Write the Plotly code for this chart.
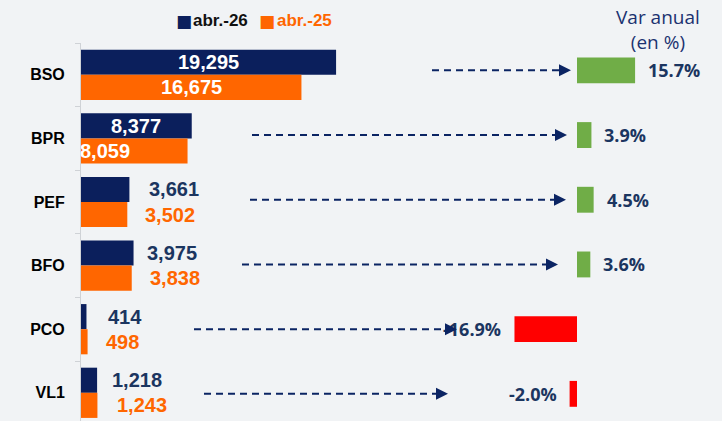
import plotly.graph_objects as go

# ---------------- data ----------------
categories = ["BSO", "BPR", "PEF", "BFO", "PCO", "VL1"]
abr26 = [19295, 8377, 3661, 3975, 414, 1218]
abr25 = [16675, 8059, 3502, 3838, 498, 1243]
var_anual = [15.7, 3.9, 4.5, 3.6, -16.9, -2.0]
series_names = ["abr.-26", "abr.-25"]
title_text = "Var anual<br>(en %)"

# ---------------- styles ----------------
W, H = 722, 421
NAVY = "#0b1f5c"
NAVY_TXT = "#1b3560"
ORANGE = "#ff6600"
GREEN = "#70ad47"
RED = "#ff0000"
BG = "#f1f3f5"
ARROW = "#0b2463"

# label placement per bar: ("in" centred white, "left" white at bar start, "out" coloured outside)
lab26_mode = ["in", "in", "out", "out", "out", "out"]
lab26_shift = [0, 0, 18, 11, 20, 13]
lab25_mode = ["in", "left", "out", "out", "out", "out"]
lab25_shift = [0, -3, 16, 16, 16, 18]

# arrow start / tip in pixels
arrow_start = [432, 252, 250, 242, 194, 204]
arrow_tip = [571, 567, 566, 558, 457, 448]

def px(x):
    return x / W

fig = go.Figure()
fig.add_trace(go.Bar(y=categories, x=abr26, orientation="h", name=series_names[0],
                     marker=dict(color=NAVY, line_width=0), xaxis="x", yaxis="y", hoverinfo="x+y"))
fig.add_trace(go.Bar(y=categories, x=abr25, orientation="h", name=series_names[1],
                     marker=dict(color=ORANGE, line_width=0), xaxis="x", yaxis="y", hoverinfo="x+y"))
fig.add_trace(go.Bar(y=categories, x=var_anual, orientation="h", name="Var anual",
                     marker=dict(color=[GREEN if v >= 0 else RED for v in var_anual], line_width=0),
                     width=0.4, xaxis="x2", yaxis="y2", hoverinfo="x+y"))

annotations = []
half = 0.79 / 4.0  # offset of each bar within its group
for i, c in enumerate(categories):
    for vals, modes, shifts, off, col in ((abr26, lab26_mode, lab26_shift, -half, NAVY_TXT),
                                          (abr25, lab25_mode, lab25_shift, half, ORANGE)):
        v = vals[i]
        m = modes[i]
        txt = f"{v:,}"
        if m == "in":
            a = dict(x=v / 2, xanchor="center", font=dict(color="white"))
        elif m == "left":
            a = dict(x=0, xanchor="left", xshift=shifts[i], font=dict(color="white"))
        else:
            a = dict(x=v, xanchor="left", xshift=shifts[i], font=dict(color=col))
        a["font"].update(size=20, family="Liberation Sans, Arial", weight="bold")
        a.update(text=f"<b>{txt}</b>", y=i + off, xref="x", yref="y", showarrow=False,
                 yanchor="middle")
        annotations.append(a)

    v = var_anual[i]
    annotations.append(dict(
        x=v, y=i, xref="x2", yref="y2", showarrow=False,
        text=f"<b>{v:.1f}%</b>",
        xanchor="left" if v >= 0 else "right",
        xshift=11 if v >= 0 else -11, yanchor="middle",
        font=dict(size=18, family="Open Sans", color=NAVY_TXT)))

    # arrow head
    annotations.append(dict(
        x=px(arrow_tip[i]), y=i, xref="paper", yref="y2", text="",
        showarrow=True, ax=-10, ay=0, axref="pixel", ayref="pixel",
        arrowhead=2, arrowsize=1.2, arrowwidth=2, arrowcolor=ARROW))

# title
annotations.append(dict(x=px(658), y=1 - 2 / H, xref="paper", yref="paper", xanchor="center",
                        yanchor="top", showarrow=False, text=title_text,
                        font=dict(size=19, family="Open Sans", color="#1b3270")))

# legend (manual)
for sx, tx, scol, tcol, name in ((184, 191, NAVY, "#111111", series_names[0]),
                                 (267, 275, ORANGE, ORANGE, series_names[1])):
    annotations.append(dict(x=px(sx), y=1 - 21 / H, xref="paper", yref="paper", xanchor="center",
                            yanchor="middle", showarrow=False, text="■",
                            font=dict(size=17, family="DejaVu Sans", color=scol)))
    annotations.append(dict(x=px(tx), y=1 - 21 / H, xref="paper", yref="paper", xanchor="left",
                            yanchor="middle", showarrow=False, text=f"<b>{name}</b>",
                            font=dict(size=17, family="Liberation Sans, Arial", color=tcol)))

shapes = []
for i in range(len(categories)):
    shapes.append(dict(type="line", xref="paper", yref="y2",
                       x0=px(arrow_start[i]), x1=px(arrow_tip[i] - 8), y0=i, y1=i,
                       line=dict(color=ARROW, width=2, dash="7px,5px")))

ytop1 = 43
step1 = 63.6
ytop2 = 38
step2 = 64.7

fig.update_layout(
    width=W, height=H,
    margin=dict(l=0, r=0, t=0, b=0),
    paper_bgcolor=BG, plot_bgcolor=BG,
    barmode="group", bargap=0.21, bargroupgap=0,
    showlegend=False,
    xaxis=dict(domain=[px(81), px(430)], range=[0, (430 - 81) / 0.01322 * 1],
               visible=False, fixedrange=True),
    yaxis=dict(domain=[0, 1 - ytop1 / H], anchor="x",
               categoryorder="array", categoryarray=categories,
               range=[-0.5 + (H - ytop1) / step1, -0.5],
               showline=True, linecolor="#cfd2d6", linewidth=1,
               ticks="outside", tickson="boundaries", ticklen=5, tickcolor="#cfd2d6",
               ticklabelstandoff=12,
               tickfont=dict(size=16, family="Liberation Sans, Arial", color="#000000", weight="bold"),
               showgrid=False, zeroline=False),
    xaxis2=dict(domain=[px(400), 1], range=[-(577 - 400) / 3.7, (722 - 577) / 3.7],
                anchor="y2", visible=False),
    yaxis2=dict(domain=[0, 1 - ytop2 / H], anchor="x2",
                categoryorder="array", categoryarray=categories,
                range=[-0.5 + (H - ytop2) / step2, -0.5], visible=False),
    annotations=annotations,
    shapes=shapes,
)

fig.write_html("out.html", config={"displayModeBar": False},
               post_script="document.body.style.margin='0';document.body.style.overflow='hidden';")
